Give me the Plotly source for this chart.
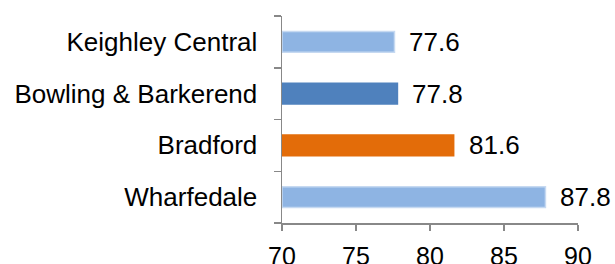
import plotly.graph_objects as go

categories = ["Keighley Central", "Bowling & Barkerend", "Bradford", "Wharfedale"]
values = [77.6, 77.8, 81.6, 87.8]
labels = ["77.6", "77.8", "81.6", "87.8"]
fill_colors = ["#8EB4E3", "#4F81BD", "#E36C09", "#8EB4E3"]
line_colors = ["#C6D9F1", "#4F81BD", "#E36C09", "#C6D9F1"]
x_ticks = [70, 75, 80, 85, 90]

base = 70
fig = go.Figure(go.Bar(
    y=categories,
    x=[v - base for v in values],
    base=base,
    orientation="h",
    marker=dict(color=fill_colors, line=dict(color=line_colors, width=1.5)),
    width=0.4,
    hoverinfo="skip",
))

for c, v, t in zip(categories, values, labels):
    fig.add_annotation(x=v, y=c, text=t, showarrow=False, xanchor="left",
                       xshift=13, font=dict(size=26, color="#000000"))

font = "Liberation Sans, Arial, sans-serif"
fig.update_layout(
    width=615, height=264,
    margin=dict(l=282, r=37, t=16, b=41),
    paper_bgcolor="white", plot_bgcolor="white",
    font=dict(family=font, size=26, color="#000000"),
    showlegend=False,
    bargap=0.6,
)
fig.update_xaxes(range=[70, 90], tickvals=x_ticks, ticks="outside", ticklen=6,
                 tickwidth=1.5, tickcolor="#888888", showline=True, linecolor="#888888",
                 linewidth=1.5, showgrid=False, zeroline=False, fixedrange=True,
                 automargin=False, ticklabelstandoff=4, tickfont=dict(size=25))
fig.update_yaxes(categoryorder="array", categoryarray=categories[::-1],
                 ticks="outside", tickson="boundaries", ticklen=7, tickwidth=1.5,
                 tickcolor="#888888", showline=True, linecolor="#888888", linewidth=1.5,
                 showgrid=False, zeroline=False, ticklabelstandoff=18, automargin=False,
                 fixedrange=True)

fig.write_html("out.html", config={"displayModeBar": False, "staticPlot": True},
               post_script="document.body.style.margin='0';document.body.style.overflow='hidden';")
